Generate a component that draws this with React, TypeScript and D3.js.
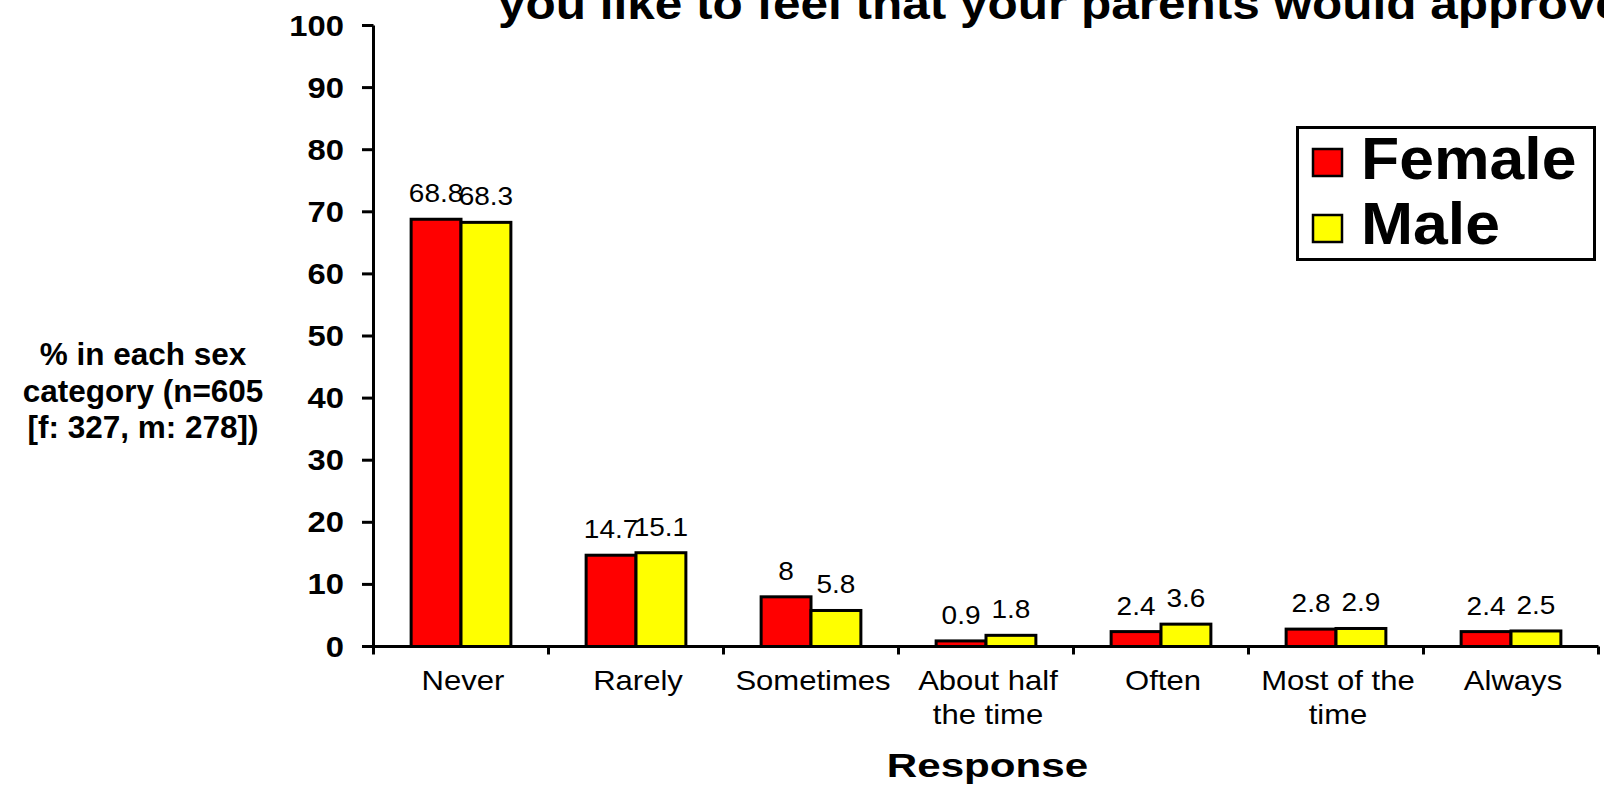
import React from "react";
import * as d3 from "d3";

const categories = ["Never", "Rarely", "Sometimes", "About half|the time", "Often", "Most of the|time", "Always"];
const seriesNames = ["Female", "Male"];
const femaleValues = [68.8, 14.7, 8, 0.9, 2.4, 2.8, 2.4];
const maleValues = [68.3, 15.1, 5.8, 1.8, 3.6, 2.9, 2.5];
const seriesColors = ["#FF0000", "#FFFF00"];
const yTicks = [0, 10, 20, 30, 40, 50, 60, 70, 80, 90, 100];
const titleText = "you like to feel that your parents would approve of?";
const yTitleLines = ["% in each sex", "category (n=605", "[f: 327, m: 278])"];
const xTitle = "Response";

const FONT = "'Liberation Sans', Arial, Helvetica, sans-serif";

export default function App() {
  const W = 1604, H = 786;
  const x0 = 373.5, x1 = 1598.5, yZero = 646.5, yTop = 25.5;
  const y = d3.scaleLinear().domain([0, 100]).range([yZero, yTop]);
  const xb = d3.scaleBand<string>().domain(categories).range([x0, x1]).paddingInner(0.43).paddingOuter(0.215);
  const xs = d3.scaleBand<string>().domain(seriesNames).range([0, xb.bandwidth()]);
  const values = [femaleValues, maleValues];
  const step = xb.step();

  return (
    <svg width={W} height={H} style={{ position: "absolute", left: 0, top: 0, background: "#fff" }} fontFamily={FONT}>
      <rect x={0} y={0} width={W} height={H} fill="#fff" />
      {/* title */}
      <text transform={`translate(498,19) scale(1.1,1)`} fontSize={45} fontWeight="bold" fill="#000">{titleText}</text>

      {/* bars */}
      {categories.map((c, i) => (
        <g key={c}>
          {seriesNames.map((s, j) => {
            const v = values[j][i];
            const bx = (xb(c) as number) + (xs(s) as number);
            const bw = xs.bandwidth();
            return (
              <g key={s}>
                <rect x={bx} y={y(v)} width={bw} height={yZero - y(v)} fill={seriesColors[j]} stroke="#000" strokeWidth={3} />
                <text transform={`translate(${bx + bw / 2},${y(v) - 17}) scale(1.12,1)`} textAnchor="middle" fontSize={25} fill="#000">{String(v)}</text>
              </g>
            );
          })}
        </g>
      ))}

      {/* y axis */}
      <line x1={x0} x2={x0} y1={yTop} y2={yZero + 1.5} stroke="#000" strokeWidth={3} />
      {yTicks.map((t) => (
        <g key={t}>
          <line x1={362} x2={x0} y1={y(t)} y2={y(t)} stroke="#000" strokeWidth={3} />
          <text transform={`translate(344,${y(t) + 10}) scale(1.13,1)`} textAnchor="end" fontSize={29} fontWeight="bold" fill="#000">{t}</text>
        </g>
      ))}

      {/* x axis */}
      <line x1={x0 - 1.5} x2={x1} y1={yZero} y2={yZero} stroke="#000" strokeWidth={3} />
      {d3.range(categories.length + 1).map((i) => (
        <line key={i} x1={x0 + i * step} x2={x0 + i * step} y1={yZero} y2={yZero + 8} stroke="#000" strokeWidth={3} />
      ))}
      {categories.map((c) => {
        const cx = (xb(c) as number) + xb.bandwidth() / 2 + 2;
        return c.split("|").map((line, k) => (
          <text key={c + k} transform={`translate(${cx},${690 + k * 34}) scale(1.15,1)`} textAnchor="middle" fontSize={27} fill="#000">{line}</text>
        ));
      })}

      {/* axis titles */}
      <text transform={`translate(987.5,777) scale(1.24,1)`} textAnchor="middle" fontSize={34} fontWeight="bold" fill="#000">{xTitle}</text>
      {yTitleLines.map((l, k) => (
        <text key={k} x={143} y={365 + k * 36.7} textAnchor="middle" fontSize={31.5} fontWeight="bold" fill="#000">{l}</text>
      ))}

      {/* legend */}
      <rect x={1297.5} y={127.5} width={297} height={132} fill="#fff" stroke="#000" strokeWidth={3} />
      {seriesNames.map((s, j) => (
        <g key={s}>
          <rect x={1313} y={149 + j * 66} width={29} height={27} fill={seriesColors[j]} stroke="#000" strokeWidth={2.5} />
          <text transform={`translate(1361,${179 + j * 65}) scale(1.06,1)`} fontSize={59} fontWeight="bold" fill="#000">{s}</text>
        </g>
      ))}
    </svg>
  );
}
